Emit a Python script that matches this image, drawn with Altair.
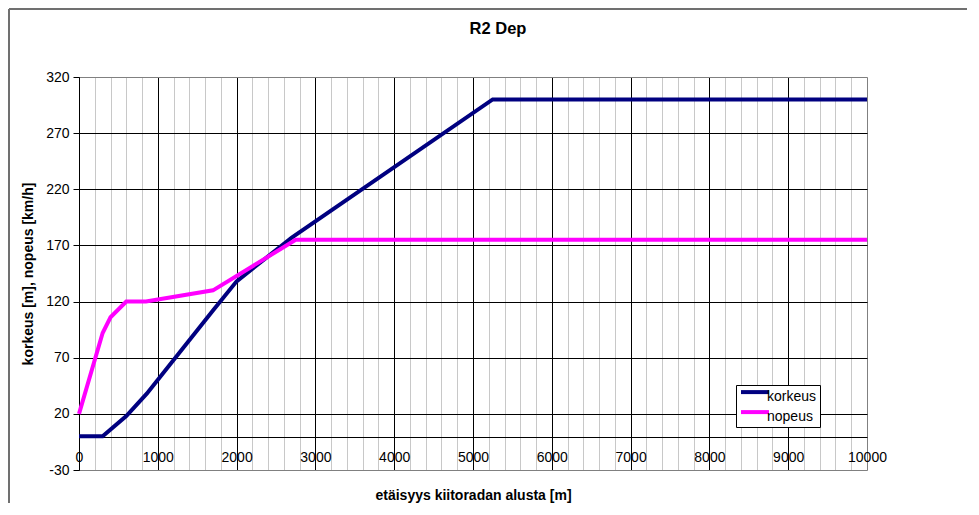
import altair as alt
import pandas as pd

# ---- data ----
dist_korkeus = [0, 300, 600, 860, 1700, 2000, 2700, 5250, 10000]
val_korkeus = [0, 0, 18, 38, 112, 138, 177, 300, 300]
dist_nopeus = [0, 300, 400, 600, 850, 1700, 2750, 10000]
val_nopeus = [20, 92, 106, 120, 120, 130, 175, 175]
series = ["korkeus", "nopeus"]
colors = ["#000080", "#ff00ff"]
y_ticks = list(range(-30, 321, 50))
x_major = list(range(0, 10001, 1000))
x_minor = [v for v in range(0, 10001, 200) if v % 1000]

rows = []
for d, v in zip(dist_korkeus, val_korkeus):
    rows.append({"d": d, "v": v, "s": series[0]})
for d, v in zip(dist_nopeus, val_nopeus):
    rows.append({"d": d, "v": v, "s": series[1]})
df = pd.DataFrame(rows)
frame_df = pd.DataFrame({"k": [0]})

W, H = 788, 393
FONT = "Liberation Sans"

x_scale = alt.Scale(domain=[0, 10000], nice=False, zero=False)
y_scale = alt.Scale(domain=[-30, 320], nice=False, zero=False)

y_axis = alt.Axis(
    values=y_ticks, title="korkeus [m], nopeus [km/h]", grid=True,
    gridColor={"condition": {"test": "datum.value == 320 || datum.value == -30", "value": "#808080"}, "value": "#000000"},
    gridWidth=1, labelFontSize=14, labelColor="black", labelFont=FONT,
    labelExpr="'' + datum.value",
    tickColor="black", tickSize=6, labelPadding=4, domainColor="black",
    titleFontSize=14, titleFontWeight="bold", titleColor="black", titleFont=FONT,
    titleX=-51, titleY=H / 2, titleBaseline="middle", titleAngle=270, titleAlign="center",
)
y_enc = alt.Y("v:Q", scale=y_scale, axis=y_axis)

minor = alt.Chart(df).mark_line(opacity=0).encode(
    x=alt.X("d:Q", scale=x_scale, axis=alt.Axis(
        values=x_minor, grid=True, gridColor="#c8c8c8", gridWidth=1,
        labels=False, ticks=False, domain=False, title=None, orient="bottom")),
    y=y_enc,
    detail="s:N",
)

lines = alt.Chart(df).mark_line(strokeWidth=4).encode(
    x=alt.X("d:Q", scale=x_scale, axis=alt.Axis(
        values=x_major, grid=True,
        gridColor={"condition": {"test": "datum.value == 10000", "value": "#808080"}, "value": "#000000"},
        gridWidth=1, orient="bottom", offset=-33, domain=True, domainColor="black",
        ticks=False, tickSize=0, labelPadding=13, labelFontSize=14, labelColor="black",
        labelFont=FONT, labelFlush=False, labelOverlap=False, format="d",
        title="etäisyys kiitoradan alusta [m]", titleFontSize=14, titleFontWeight="bold",
        titleColor="black", titleFont=FONT, titleY=58, titleBaseline="middle")),
    y=y_enc,
    color=alt.Color("s:N", scale=alt.Scale(domain=series, range=colors), legend=alt.Legend(
        title=None, orient="none", legendX=657, legendY=308, direction="vertical",
        strokeColor="black", fillColor="white", padding=3,
        symbolType="M-1,-0.7L3,-0.7", symbolSize=196, symbolStrokeWidth=4,
        labelFontSize=14, labelOffset=10, rowPadding=0, labelColor="black", labelFont=FONT)),
)

frame_left = alt.Chart(frame_df).mark_rule(color="#707070", strokeWidth=2).encode(
    x=alt.value(-70), y=alt.value(-68), y2=alt.value(H + 40))
frame_top = alt.Chart(frame_df).mark_rule(color="#707070", strokeWidth=2).encode(
    x=alt.value(-70), x2=alt.value(W + 110), y=alt.value(-68))

chart = alt.layer(minor, lines, frame_left, frame_top).resolve_axis(
    x="independent"
).resolve_scale(x="shared", y="shared").properties(
    width=W, height=H,
    padding={"left": 71, "top": 69, "right": 100, "bottom": 33},
    autosize=alt.AutoSizeParams(type="none"),
    title=alt.TitleParams("R2 Dep", fontSize=16.5, fontWeight="bold", color="black", font=FONT,
                          anchor="middle", dx=25, offset=-42, baseline="alphabetic"),
).configure_view(stroke="#808080", strokeWidth=1).configure(font=FONT, background="white")

chart.save("out.html", embed_options={"renderer": "svg", "actions": False})
